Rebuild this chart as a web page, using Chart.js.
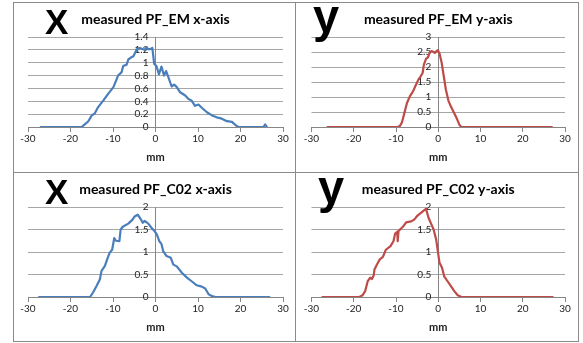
<!DOCTYPE html>
<html>
<head>
<meta charset="utf-8">
<script src="https://cdn.jsdelivr.net/npm/chart.js@4.4.1/dist/chart.umd.min.js"></script>
<style>
  html, body { margin: 0; padding: 0; background: #fff; }
  body { width: 583px; height: 343px; position: relative; overflow: hidden; font-family: Lato, sans-serif; }
  .panel { position: absolute; }
  .big { position: absolute; font-family: 'Liberation Sans', Arial, sans-serif; font-weight: bold; color: #000; line-height: 1; }
  .rule { position: absolute; background: #8a8a8a; }
</style>
</head>
<body>
<div class="panel" style="left:13px;top:2px"><canvas id="emX" width="282" height="170"></canvas></div>
<div class="panel" style="left:295px;top:2px"><canvas id="emY" width="283" height="170"></canvas></div>
<div class="panel" style="left:13px;top:172px"><canvas id="c02X" width="282" height="169"></canvas></div>
<div class="panel" style="left:295px;top:172px"><canvas id="c02Y" width="283" height="169"></canvas></div>

<div class="big" style="left:45px;top:4px;font-size:35px">X</div>
<div class="big" style="left:313px;top:-8px;font-size:47px">y</div>
<div class="big" style="left:45px;top:174px;font-size:35px">X</div>
<div class="big" style="left:318px;top:163px;font-size:47px">y</div>

<div class="rule" style="left:13px;top:2px;width:566px;height:1px"></div>
<div class="rule" style="left:13px;top:341px;width:566px;height:1px"></div>
<div class="rule" style="left:13px;top:172px;width:566px;height:1px"></div>
<div class="rule" style="left:13px;top:2px;width:1px;height:340px"></div>
<div class="rule" style="left:295px;top:2px;width:1px;height:340px"></div>
<div class="rule" style="left:578px;top:2px;width:1px;height:340px"></div>

<script>
const emXpos = [-27, -22, -17.4, -16.5, -15.8, -15.0, -14.3, -13.5, -12.3, -11.1, -9.9, -8.8, -8.0, -7.6, -6.8, -6.4, -5.8, -5.2, -4.4, -3.7, -2.9, -2.5, -2.1, -1.7, -1.3, -0.75, -0.3, 0.2, 0.8, 1.4, 2.0, 2.5, 3.0, 3.8, 4.4, 5.0, 5.8, 7.0, 7.7, 8.5, 9.3, 10.1, 10.9, 12.1, 13.3, 14.4, 15.6, 16.8, 18.0, 19.0, 19.5, 22, 25.4, 25.8, 26.2];
const emXval = [0, 0, 0, 0.05, 0.09, 0.18, 0.21, 0.31, 0.41, 0.52, 0.62, 0.8, 0.85, 0.95, 0.97, 1.05, 1.08, 1.1, 1.21, 1.23, 1.21, 1.2, 1.24, 1.21, 1.21, 1.23, 0.98, 0.95, 0.82, 0.94, 0.8, 0.87, 0.78, 0.63, 0.66, 0.62, 0.54, 0.49, 0.44, 0.41, 0.33, 0.35, 0.3, 0.23, 0.18, 0.15, 0.13, 0.09, 0.08, 0.02, 0, 0, 0, 0.04, 0];

const emYpos = [-26.2, -20, -15, -9.6, -9.1, -8.6, -8.1, -7.4, -6.7, -6.0, -5.3, -4.7, -4.2, -3.7, -3.4, -2.9, -2.4, -2.0, -1.5, -1.1, -0.8, -0.4, -0.1, 0.3, 0.8, 1.3, 1.8, 2.4, 3.0, 3.7, 4.4, 5.0, 5.4, 12, 20, 26.9];
const emYval = [0, 0, 0, 0, 0.03, 0.15, 0.42, 0.8, 1.03, 1.18, 1.4, 1.58, 1.68, 1.8, 2.08, 2.27, 2.33, 2.5, 2.53, 2.5, 2.47, 2.53, 2.56, 2.45, 2.15, 1.7, 1.25, 0.88, 0.68, 0.48, 0.28, 0.08, 0, 0, 0, 0];

const c02Xpos = [-27.4, -22, -15.4, -14.7, -13.9, -13.1, -12.7, -11.9, -11.4, -10.8, -10.2, -9.7, -9.3, -8.5, -8.2, -7.7, -6.4, -5.4, -4.9, -4.2, -3.6, -3.0, -2.6, -2.1, -1.5, -0.9, -0.35, 0.3, 0.9, 1.4, 1.8, 2.6, 3.6, 4.2, 5.0, 6.2, 7.4, 8.5, 9.7, 10.9, 11.7, 12.5, 13.3, 14.1, 20, 26.8];
const c02Xval = [0, 0, 0, 0.1, 0.24, 0.39, 0.58, 0.69, 0.83, 0.98, 1.05, 1.31, 1.25, 1.24, 1.5, 1.56, 1.63, 1.72, 1.79, 1.83, 1.75, 1.65, 1.69, 1.66, 1.61, 1.53, 1.48, 1.39, 1.24, 1.18, 1.02, 0.91, 0.87, 0.72, 0.68, 0.54, 0.43, 0.35, 0.26, 0.23, 0.19, 0.06, 0.02, 0, 0, 0];

const c02Ypos = [-27.4, -22, -18.7, -17.9, -17.3, -16.7, -16.1, -15.7, -15.3, -15.1, -14.5, -13.9, -13.1, -12.4, -11.3, -10.6, -10.2, -9.7, -9.6, -9.4, -8.8, -8.2, -7.6, -6.4, -5.7, -4.9, -4.1, -3.3, -2.9, -2.3, -1.7, -1.1, -0.5, -0.1, 0.3, 0.9, 1.4, 2.2, 3.0, 3.8, 4.6, 5.5, 12, 20, 27.1];
const c02Yval = [0, 0, 0, 0.04, 0.13, 0.35, 0.43, 0.4, 0.47, 0.61, 0.72, 0.83, 0.89, 1.05, 1.13, 1.24, 1.41, 1.45, 1.24, 1.47, 1.52, 1.58, 1.66, 1.68, 1.72, 1.81, 1.87, 1.93, 1.96, 1.76, 1.63, 1.5, 1.28, 1.02, 0.76, 0.65, 0.46, 0.35, 0.24, 0.13, 0.04, 0, 0, 0, 0];

// tick labels
const mmTicks = [-30, -20, -10, 0, 10, 20, 30];
const emXticks = [0, 0.2, 0.4, 0.6, 0.8, 1, 1.2, 1.4];
const emYticks = [0, 0.5, 1, 1.5, 2, 2.5, 3];
const c02Ticks = [0, 0.5, 1, 1.5, 2];

const BLUE = '#4a7ebb';
const RED = '#be4b48';

const tickFont = { family: 'Lato', size: 10 };

const buildChart = (id, title, pos, vals, color, yTicks, pad) => {
    const ctx = document.getElementById(id);
    if (!ctx) return;
    new Chart(ctx, {
        type: 'line',
        data: {
            datasets: [{
                data: pos.map((x, i) => ({ x: x, y: vals[i] })),
                borderColor: color,
                borderWidth: 2.2,
                borderJoinStyle: 'round',
                borderCapStyle: 'round',
                pointRadius: 0,
                tension: 0,
                fill: false
            }]
        },
        options: {
            responsive: false,
            animation: false,
            layout: { padding: pad },
            plugins: {
                legend: { display: false },
                tooltip: { enabled: false },
                title: {
                    display: true,
                    text: title,
                    color: '#000',
                    font: { family: 'Lato', size: 14, weight: 'bold' },
                    padding: { top: 8.6, bottom: 9.6 }
                }
            },
            scales: {
                x: {
                    type: 'linear',
                    position: 'bottom',
                    min: mmTicks[0],
                    max: mmTicks[mmTicks.length - 1],
                    afterBuildTicks: axis => { axis.ticks = mmTicks.map(v => ({ value: v })); },
                    ticks: { font: tickFont, color: '#222', padding: 1, maxRotation: 0, autoSkip: false },
                    grid: { drawOnChartArea: false, drawTicks: true, tickLength: 5, color: '#868686' },
                    border: { display: true, color: '#868686' },
                    title: {
                        display: true,
                        text: 'mm',
                        color: '#222',
                        font: { family: 'Lato', size: 11, weight: 'bold' },
                        padding: { top: 5, bottom: 0 }
                    }
                },
                y: {
                    type: 'linear',
                    position: 'center',
                    min: yTicks[0],
                    max: yTicks[yTicks.length - 1],
                    afterBuildTicks: axis => { axis.ticks = yTicks.map(v => ({ value: v })); },
                    ticks: { font: tickFont, color: '#222', padding: 3, autoSkip: false, callback: v => String(v) },
                    grid: { color: '#a6a6a6', drawTicks: true, tickLength: 4 },
                    border: { display: true, color: '#868686' }
                }
            }
        }
    });
};

buildChart('emX', 'measured PF_EM x-axis', emXpos, emXval, BLUE, emXticks, { left: 15, right: 12, top: 0, bottom: 7.8 });
buildChart('emY', 'measured PF_EM y-axis', emYpos, emYval, RED, emYticks, { left: 16.5, right: 13, top: 0, bottom: 7.8 });
buildChart('c02X', 'measured PF_C02 x-axis', c02Xpos, c02Xval, BLUE, c02Ticks, { left: 15, right: 12, top: 0, bottom: 6.8 });
buildChart('c02Y', 'measured PF_C02 y-axis', c02Ypos, c02Yval, RED, c02Ticks, { left: 16.5, right: 13, top: 0, bottom: 6.8 });
</script>
</body>
</html>
